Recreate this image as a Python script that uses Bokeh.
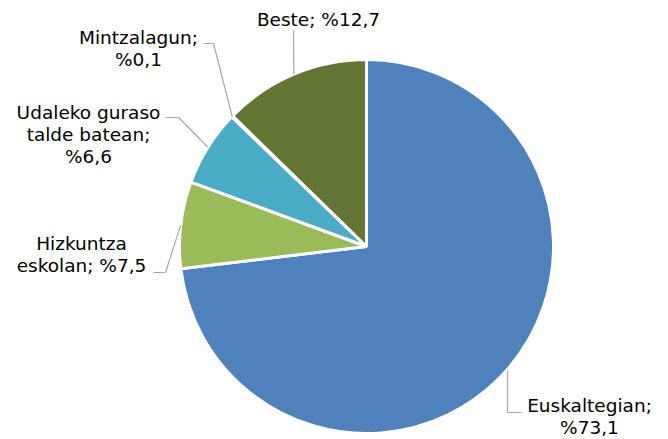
import math
from bokeh.plotting import figure
from bokeh.models import Range1d, ColumnDataSource
from bokeh.core.properties import value
from bokeh.embed import file_html
from bokeh.resources import INLINE

# ---- data ----
categories = ["Euskaltegian", "Hizkuntza eskolan", "Udaleko guraso talde batean", "Mintzalagun", "Beste"]
percent = [73.1, 7.5, 6.6, 0.1, 12.7]
label_lines = [
    ["Euskaltegian;", "%73,1"],
    ["Hizkuntza", "eskolan; %7,5"],
    ["Udaleko guraso", "talde batean;", "%6,6"],
    ["Mintzalagun;", "%0,1"],
    ["Beste; %12,7"],
]
colors = ["#4F81BD", "#9BBB59", "#4BACC6", "#F79646", "#637532"]

# ---- layout (screen pixels) ----
W, H = 668, 439
CX, CY, R = 366, 246, 187
FONT = "DejaVu Sans"
FS = "18.5px"
LINE_GAP = 22
# label text centres (x, first-line y) in screen coordinates
label_pos = [(589, 405), (81, 243), (88, 112), (138, 37), (318, 19)]
# leader elbow points (screen coords), ordered from label to pie edge
leader_pts = [
    [(521, 412), (507, 412)],
    [(153, 272), (165, 272)],
    [(165, 117), (178, 117)],
    [(203, 43), (213, 43)],
    [(293, 30)],
]

def sy(y):
    return H - y

total = sum(percent)
starts, ends, mids = [], [], []
cum = 0.0
for v in percent:
    a0 = math.radians(90 - cum / total * 360)
    cum += v
    a1 = math.radians(90 - cum / total * 360)
    starts.append(a0)
    ends.append(a1)
    mids.append((a0 + a1) / 2)

p = figure(width=W, height=H, output_backend="svg", toolbar_location=None,
           x_range=Range1d(0, W), y_range=Range1d(0, H),
           min_border=0)
p.axis.visible = False
p.grid.visible = False
p.outline_line_color = None
p.background_fill_color = "white"

src = ColumnDataSource(dict(x=[CX] * len(percent), y=[sy(CY)] * len(percent),
                            start=starts, end=ends, color=colors))
p.wedge(x="x", y="y", radius=R, start_angle="start", end_angle="end",
        direction="clock", fill_color="color", line_color="white",
        line_width=3, source=src)

# leader lines
for i, pts in enumerate(leader_pts):
    ex = CX + R * math.cos(mids[i])
    ey = sy(CY) + R * math.sin(mids[i])
    xs = [q[0] for q in pts] + [ex]
    ys = [sy(q[1]) for q in pts] + [ey]
    if i == 0:
        xs[-1] = pts[-1][0]
    p.line(xs, ys, line_color="#A6A6A6", line_width=1.2)

# labels
tx, ty, tt = [], [], []
for (lx, ly), lines in zip(label_pos, label_lines):
    for k, t in enumerate(lines):
        tx.append(lx)
        ty.append(sy(ly + k * LINE_GAP))
        tt.append(t)
p.text(x=tx, y=ty, text=tt, text_align="center", text_baseline="middle",
       text_font=value(FONT), text_font_size=FS, text_color="#000000")

open("out.html", "w").write(file_html(p, INLINE))
